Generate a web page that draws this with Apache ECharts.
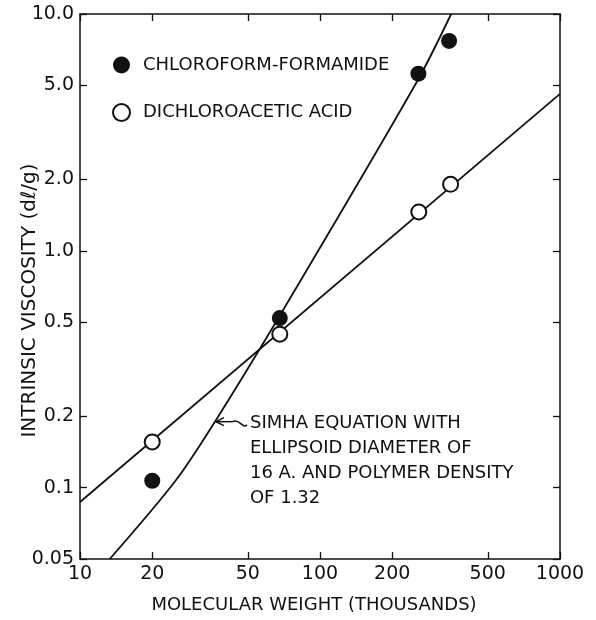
<!DOCTYPE html>
<html>
<head>
<meta charset="utf-8">
<script src="https://cdn.jsdelivr.net/npm/echarts@6/dist/echarts.min.js"></script>
<style>
  html, body { margin: 0; padding: 0; background: #fff; }
  #chart { width: 596px; height: 620px; }
</style>
</head>
<body>
<div id="chart"></div>
<script>
// tick positions on both log axes
var xTicks = [10, 20, 50, 100, 200, 500, 1000];
var yTicks = [0.05, 0.1, 0.2, 0.5, 1.0, 2.0, 5.0, 10.0];
var yTickLabels = ['0.05', '0.1', '0.2', '0.5', '1.0', '2.0', '5.0', '10.0'];

// measured points (molecular weight in thousands, intrinsic viscosity dl/g)
var chloroM = [20, 68, 257, 345];
var chloroV = [0.107, 0.52, 5.6, 7.7];
var dichloroM = [20, 68, 258, 350];
var dichloroV = [0.156, 0.445, 1.46, 1.91];

// Simha curve
var simhaM = [13.3, 25, 36.5, 70, 254, 352];
var simhaV = [0.05, 0.107, 0.19, 0.56, 5.2, 10.0];

// straight line through the dichloroacetic acid points
var lineM = [10, 1000];
var lineV = [0.087, 4.6];

var font = '"DejaVu Sans", sans-serif';
var ink = '#111';

function lg(v) { return Math.log10(v); }
function pairs(xs, ys) {
  return xs.map(function(x, i) { return [lg(x), lg(ys[i])]; });
}
function near(a, b) { return Math.abs(a - b) < 1e-6; }

var xTickVals = xTicks.map(lg);
var yTickVals = yTicks.map(lg);

var chart = echarts.init(document.getElementById('chart'), null, { renderer: 'canvas' });

var axisLine = { show: true, onZero: false, lineStyle: { color: ink, width: 1.5 } };

chart.setOption({
  animation: false,
  grid: { left: 80, right: 36, top: 14, bottom: 61, containLabel: false, outerBoundsMode: 'none' },
  legend: {
    orient: 'vertical',
    left: 107,
    top: 51,
    itemGap: 29,
    itemWidth: 17,
    itemHeight: 17,
    icon: 'circle',
    selectedMode: false,
    textStyle: { fontFamily: font, fontSize: 18, color: ink, lineHeight: 18, padding: [0, 0, 0, 8] },
    data: [
      { name: 'CHLOROFORM-FORMAMIDE', itemStyle: { color: ink, borderWidth: 0 } },
      { name: 'DICHLOROACETIC ACID', itemStyle: { color: '#fff', borderColor: ink, borderWidth: 2 } }
    ]
  },
  xAxis: [
    {
      type: 'value',
      min: 1,
      max: 3,
      position: 'bottom',
      name: 'MOLECULAR WEIGHT (THOUSANDS)',
      nameLocation: 'middle',
      nameGap: 37,
      nameMoveOverlap: false,
      nameTextStyle: { fontFamily: font, fontSize: 18, color: ink, padding: [0, 12, 0, 0] },
      axisLine: axisLine,
      splitLine: { show: false },
      axisTick: { inside: true, length: 7, customValues: xTickVals, lineStyle: { color: ink, width: 1.3 } },
      axisLabel: {
        customValues: xTickVals,
        margin: 6,
        fontFamily: font,
        fontSize: 19,
        color: ink,
        formatter: function(v) { return String(Math.round(Math.pow(10, v))); }
      }
    },
    {
      type: 'value',
      min: 1,
      max: 3,
      position: 'top',
      axisLine: axisLine,
      splitLine: { show: false },
      axisTick: { inside: true, length: 7, customValues: xTickVals, lineStyle: { color: ink, width: 1.3 } },
      axisLabel: { show: false }
    }
  ],
  yAxis: [
    {
      type: 'value',
      min: lg(0.05),
      max: 1,
      position: 'left',
      name: 'INTRINSIC VISCOSITY (d\u2113/g)',
      nameLocation: 'middle',
      nameGap: 40,
      nameMoveOverlap: false,
      nameTextStyle: { fontFamily: font, fontSize: 20, color: ink, padding: [0, 28, 0, 0] },
      axisLine: axisLine,
      splitLine: { show: false },
      axisTick: { inside: true, length: 7, customValues: yTickVals, lineStyle: { color: ink, width: 1.3 } },
      axisLabel: {
        customValues: yTickVals,
        margin: 6,
        fontFamily: font,
        fontSize: 19,
        color: ink,
        formatter: function(v) {
          for (var i = 0; i < yTickVals.length; i++) {
            if (near(v, yTickVals[i])) return yTickLabels[i];
          }
          return '';
        }
      }
    },
    {
      type: 'value',
      min: lg(0.05),
      max: 1,
      position: 'right',
      axisLine: axisLine,
      splitLine: { show: false },
      axisTick: { inside: true, length: 7, customValues: yTickVals, lineStyle: { color: ink, width: 1.3 } },
      axisLabel: { show: false }
    }
  ],
  series: [
    {
      name: 'Simha',
      type: 'line',
      data: pairs(simhaM, simhaV),
      smooth: 0.3,
      showSymbol: false,
      lineStyle: { color: ink, width: 1.8 },
      z: 2
    },
    {
      name: 'fit',
      type: 'line',
      data: pairs(lineM, lineV),
      showSymbol: false,
      lineStyle: { color: ink, width: 1.8 },
      z: 2
    },
    {
      name: 'CHLOROFORM-FORMAMIDE',
      type: 'scatter',
      data: pairs(chloroM, chloroV),
      symbol: 'circle',
      symbolSize: 16,
      itemStyle: { color: ink, opacity: 1 },
      z: 4
    },
    {
      name: 'DICHLOROACETIC ACID',
      type: 'scatter',
      data: pairs(dichloroM, dichloroV),
      symbol: 'circle',
      symbolSize: 15,
      itemStyle: { color: '#fff', borderColor: ink, borderWidth: 2, opacity: 1 },
      z: 4
    }
  ]
});

// annotation with the little curly arrow pointing at the Simha curve
var tip = chart.convertToPixel({ xAxisIndex: 0, yAxisIndex: 0 }, [lg(36.5), lg(0.19)]);
var tx = tip[0] + 1, ty = tip[1];
var stroke = { stroke: ink, lineWidth: 1.5, fill: null };
chart.setOption({
  graphic: [
    {
      type: 'bezierCurve',
      shape: {
        x1: tx + 31, y1: ty + 3,
        cpx1: tx + 27, cpy1: ty + 8,
        cpx2: tx + 23, cpy2: ty - 4,
        x2: tx + 17, y2: ty
      },
      style: stroke
    },
    {
      type: 'line',
      shape: { x1: tx + 17, y1: ty, x2: tx, y2: ty },
      style: stroke
    },
    {
      type: 'polyline',
      shape: { points: [[tx + 8, ty - 4], [tx, ty], [tx + 8, ty + 4]] },
      style: stroke
    },
    {
      type: 'text',
      x: tx + 34,
      y: ty - 11,
      style: {
        text: 'SIMHA EQUATION WITH\nELLIPSOID DIAMETER OF\n16 A. AND POLYMER DENSITY\nOF 1.32',
        fontFamily: font,
        fontSize: 18,
        lineHeight: 25,
        fill: ink,
        align: 'left',
        verticalAlign: 'top'
      }
    }
  ]
});
</script>
</body>
</html>
